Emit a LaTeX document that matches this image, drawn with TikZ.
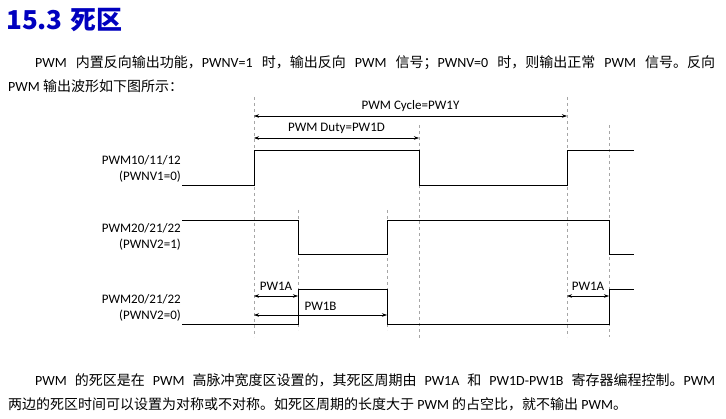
\documentclass[tikz,border=0pt]{standalone}
\usepackage{fontspec}
\setmainfont{Carlito}
\newfontfamily\cjk{Noto Sans CJK SC}
\newcommand{\zh}[1]{{\cjk #1}}
\usetikzlibrary{arrows.meta}
\begin{document}
\begin{tikzpicture}[x=1pt,y=-1pt,
  sig/.style={line width=1pt},
  guide/.style={gray!70,dashed,line width=0.5pt},
  dim/.style={{Stealth[length=5pt,width=3.5pt]}-{Stealth[length=5pt,width=3.5pt]},line width=0.5pt},
  lbl/.style={font=\fontsize{13}{16}\selectfont,align=right,anchor=east,inner sep=0pt},
  dl/.style={font=\fontsize{13}{15}\selectfont},
  txt/.style={font=\fontsize{14}{16}\selectfont,anchor=west,inner sep=0pt}]
\useasboundingbox (0,0) rectangle (726,419);
\node[anchor=west,inner sep=0pt,text=blue!75!black,font=\fontsize{26}{28}\bfseries\cjk] (title) at (6,20) {15.3\hspace{8pt}死区};
\node[txt] (p1) at (35,63) {\makebox[680pt][s]{PWM \zh{内置反向输出功能，}PWNV=1 \zh{时，输出反向} PWM \zh{信号；}PWNV=0 \zh{时，则输出正常} PWM \zh{信号。反向}}};
\node[txt] (p2) at (8,86) {PWM \zh{输出波形如下图所示：}};
\node[txt] (p3) at (35,380) {\makebox[680pt][s]{PWM \zh{的死区是在} PWM \zh{高脉冲宽度区设置的，其死区周期由} PW1A \zh{和} PW1D-PW1B \zh{寄存器编程控制。}PWM}};
\node[txt] (p4) at (8,404) {\zh{两边的死区时间可以设置为对称或不对称。如死区周期的长度大于} PWM \zh{的占空比，就不输出} PWM\zh{。}};
% guides
\coordinate (g1t) at (254,97); \coordinate (g1b) at (254,337);
\coordinate (g2t) at (298,210); \coordinate (g2b) at (298,330);
\coordinate (g3t) at (387,210); \coordinate (g3b) at (387,330);
\coordinate (g4t) at (419,125); \coordinate (g4b) at (419,340);
\coordinate (g5t) at (567,97); \coordinate (g5b) at (567,337);
\coordinate (g6t) at (609,125); \coordinate (g6b) at (609,337);
\foreach \g in {1,...,6} \draw[guide] (g\g t) -- (g\g b);
% signals
\draw[sig] (182,186) -- (254,186) -- (254,151) -- (419,151) -- (419,186) -- (567,186) -- (567,151) -- (634,151);
\draw[sig] (182,221) -- (298,221) -- (298,255) -- (387,255) -- (387,221) -- (609,221) -- (609,255) -- (634,255);
\draw[sig] (182,325) -- (298,325) -- (298,290) -- (387,290) -- (387,325) -- (609,325) -- (609,290) -- (634,290);
% labels
\node[lbl] (l1) at (181,169) {PWM10/11/12\\(PWNV1=0)};
\node[lbl] (l2) at (181,237) {PWM20/21/22\\(PWNV2=1)};
\node[lbl] (l3) at (181,308) {PWM20/21/22\\(PWNV2=0)};
% dimensions
\coordinate (c1) at (254,116); \coordinate (c2) at (567,116);
\draw[dim] (c1) -- node[above=1pt,dl] (cyc) {PWM Cycle=PW1Y} (c2);
\coordinate (d1) at (254,138); \coordinate (d2) at (419,138);
\draw[dim] (d1) -- node[above=1pt,dl] (dut) {PWM Duty=PW1D} (d2);
\coordinate (a1) at (254,296); \coordinate (a2) at (298,296);
\draw[dim] (a1) -- node[above=2pt,dl] (pa) {PW1A} (a2);
\coordinate (b1) at (254,315); \coordinate (b2) at (387,315);
\draw[dim] (b1) -- node[above=1pt,dl] (pb) {PW1B} (b2);
\coordinate (e1) at (567,296); \coordinate (e2) at (609,296);
\draw[dim] (e1) -- node[above=2pt,dl] (pa2) {PW1A} (e2);
\end{tikzpicture}
\end{document}
